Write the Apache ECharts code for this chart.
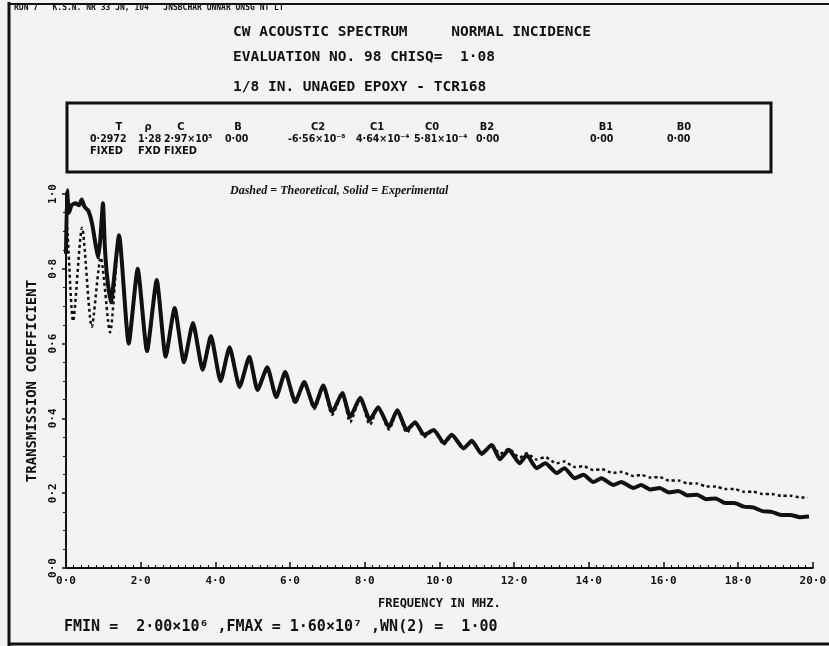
<!DOCTYPE html>
<html>
<head>
<meta charset="utf-8">
<script src="https://cdn.jsdelivr.net/npm/echarts@6/dist/echarts.min.js"></script>
<style>
html, body { margin: 0; padding: 0; background: #f3f3f1; }
#chart { width: 829px; height: 646px; }
</style>
</head>
<body>
<div id="chart"></div>
<script>
// experimental (solid) curve
var expFreq = [0.00, 0.03, 0.08, 0.15, 0.25, 0.35, 0.42, 0.50, 0.60, 0.70, 0.80, 0.86, 0.92, 0.99, 1.04, 1.10, 1.20,
    1.42, 1.68, 1.92, 2.17, 2.43, 2.67, 2.91, 3.16, 3.40, 3.66, 3.88, 4.14, 4.38, 4.65, 4.91, 5.13, 5.39, 5.63,
    5.87, 6.14, 6.38, 6.65, 6.89, 7.13, 7.40, 7.61, 7.88, 8.14, 8.36, 8.65, 8.87, 9.13, 9.35, 9.59, 9.85, 10.12,
    10.33, 10.65, 10.87, 11.13, 11.40, 11.62, 11.86, 12.15, 12.34, 12.60, 12.84, 13.14, 13.35, 13.62, 13.86, 14.12,
    14.34, 14.66, 14.87, 15.20, 15.40, 15.65, 15.90, 16.15, 16.40, 16.65, 16.90, 17.15, 17.40, 17.65, 17.90, 18.15,
    18.40, 18.65, 18.90, 19.15, 19.40, 19.65, 19.90];
var expTrans = [0.84, 1.01, 0.95, 0.97, 0.975, 0.97, 0.985, 0.965, 0.955, 0.92, 0.86, 0.83, 0.88, 0.975, 0.86, 0.78, 0.71,
    0.89, 0.60, 0.80, 0.58, 0.77, 0.565, 0.695, 0.55, 0.655, 0.53, 0.62, 0.50, 0.59, 0.484, 0.565, 0.476, 0.537, 0.457,
    0.524, 0.444, 0.497, 0.43, 0.488, 0.417, 0.468, 0.404, 0.455, 0.396, 0.43, 0.377, 0.422, 0.369, 0.39, 0.356, 0.369, 0.334,
    0.356, 0.32, 0.34, 0.305, 0.329, 0.291, 0.316, 0.28, 0.302, 0.267, 0.28, 0.254, 0.267, 0.24, 0.249, 0.23,
    0.24, 0.222, 0.23, 0.214, 0.222, 0.210, 0.214, 0.202, 0.206, 0.194, 0.196, 0.184, 0.186, 0.174, 0.174, 0.164,
    0.162, 0.152, 0.150, 0.142, 0.142, 0.136, 0.138];

// theoretical (dashed) curve
var theoFreq = [0.00, 0.05, 0.19, 0.43, 0.69, 0.93, 1.18,
    1.42, 1.68, 1.92, 2.17, 2.43, 2.67, 2.91, 3.16, 3.40, 3.66, 3.88, 4.14, 4.38, 4.65, 4.91, 5.13, 5.39, 5.63,
    5.87, 6.14, 6.38, 6.65, 6.89, 7.13, 7.40, 7.61, 7.88, 8.14, 8.36, 8.65, 8.87, 9.13, 9.35, 9.59, 9.85, 10.12,
    10.33, 10.65, 10.87, 11.13, 11.40, 11.62, 11.86, 12.15, 12.34, 12.60, 12.84, 13.14, 13.35, 13.62, 13.86, 14.12,
    14.34, 14.66, 14.87, 15.20, 15.40, 15.65, 15.90, 16.15, 16.40, 16.65, 16.90, 17.15, 17.40, 17.65, 17.90, 18.15,
    18.40, 18.65, 18.90, 19.15, 19.40, 19.65, 19.87];
var theoTrans = [0.96, 0.88, 0.66, 0.91, 0.645, 0.83, 0.63,
    0.88, 0.60, 0.79, 0.58, 0.76, 0.565, 0.69, 0.55, 0.65, 0.53, 0.615, 0.50, 0.585, 0.484, 0.56, 0.474, 0.532, 0.455,
    0.52, 0.44, 0.494, 0.425, 0.485, 0.41, 0.466, 0.39, 0.452, 0.383, 0.43, 0.37, 0.42, 0.362, 0.39, 0.35, 0.368, 0.33,
    0.354, 0.318, 0.34, 0.308, 0.33, 0.305, 0.318, 0.295, 0.307, 0.29, 0.296, 0.28, 0.285, 0.27, 0.272, 0.262,
    0.264, 0.254, 0.257, 0.246, 0.249, 0.242, 0.243, 0.234, 0.234, 0.226, 0.226, 0.218, 0.218, 0.211, 0.211, 0.204,
    0.204, 0.198, 0.198, 0.193, 0.193, 0.189, 0.188];

var titleLines = ['CW ACOUSTIC SPECTRUM     NORMAL INCIDENCE', 'EVALUATION NO. 98 CHISQ=  1·08', '1/8 IN. UNAGED EPOXY - TCR168'];
var paramNames = ['T', 'ρ', 'C', 'B', 'C2', 'C1', 'C0', 'B2', 'B1', 'B0'];
var paramValues = ['0·2972', '1·28', '2·97×10⁵', '0·00', '-6·56×10⁻⁸', '4·64×10⁻⁴', '5·81×10⁻⁴', '0·00', '0·00', '0·00'];
var paramFlags = ['FIXED', 'FXD', 'FIXED', '', '', '', '', '', '', ''];
var legendNote = 'Dashed = Theoretical, Solid = Experimental';
var footNote = 'FMIN =  2·00×10⁶ ,FMAX = 1·60×10⁷ ,WN(2) =  1·00';

// where the box entries sit
var nameX = [119, 148, 181, 238, 318, 377, 432, 487, 606, 684];
var valueX = [90, 138, 164, 225, 288, 356, 414, 476, 590, 667];

var mono = '"DejaVu Sans Mono", monospace';
var narrow = '"DejaVu Sans Condensed", "DejaVu Sans", sans-serif';

function zip(xs, ys) {
    var out = [];
    for (var i = 0; i < xs.length; i++) out.push([xs[i], ys[i]]);
    return out;
}

function dotLabel(v) {
    return v.toFixed(1).replace('.', '·');
}

var graphics = [];
// page frame
graphics.push({ type: 'line', shape: { x1: 9, y1: 2, x2: 9, y2: 646 }, style: { stroke: '#111', lineWidth: 3 } });
graphics.push({ type: 'line', shape: { x1: 9, y1: 4, x2: 829, y2: 4 }, style: { stroke: '#111', lineWidth: 2 } });
graphics.push({ type: 'line', shape: { x1: 9, y1: 644, x2: 829, y2: 644 }, style: { stroke: '#111', lineWidth: 3 } });
graphics.push({ type: 'text', x: 14, y: 8, style: { text: 'RUN 7   K.S.N. NR 33 JN, 104   JNSBCHAR UNNAR UNSG NT LT', font: 'bold 8px ' + mono, fill: '#111', textVerticalAlign: 'middle' } });

var titleY = [32, 57, 87];
for (var i = 0; i < titleLines.length; i++) {
    graphics.push({ type: 'text', x: 233, y: titleY[i], style: { text: titleLines[i], font: 'bold 14.5px ' + mono, fill: '#111', textVerticalAlign: 'middle' } });
}

// parameter box
graphics.push({ type: 'rect', shape: { x: 67, y: 103, width: 704, height: 69 }, style: { fill: 'none', stroke: '#111', lineWidth: 3 } });
for (var i = 0; i < paramNames.length; i++) {
    graphics.push({ type: 'text', x: nameX[i], y: 127, style: { text: paramNames[i], font: 'bold 11px ' + narrow, fill: '#111', textAlign: 'center', textVerticalAlign: 'middle' } });
    graphics.push({ type: 'text', x: valueX[i], y: 139, style: { text: paramValues[i], font: 'bold 10.5px ' + narrow, fill: '#111', textVerticalAlign: 'middle' } });
    if (paramFlags[i]) {
        graphics.push({ type: 'text', x: valueX[i], y: 151, style: { text: paramFlags[i], font: 'bold 11px ' + narrow, fill: '#111', textVerticalAlign: 'middle' } });
    }
}
graphics.push({ type: 'text', x: 230, y: 191, style: { text: legendNote, font: 'italic bold 12px "Liberation Serif", serif', fill: '#111', textVerticalAlign: 'middle' } });
graphics.push({ type: 'text', x: 64, y: 627, style: { text: footNote, font: 'bold 15px ' + mono, fill: '#111', textVerticalAlign: 'middle' } });

var myChart = echarts.init(document.getElementById('chart'), null, { renderer: 'canvas' });

var option = {
    backgroundColor: '#f3f3f1',
    animation: false,
    grid: { left: 66, right: 11, top: 194, bottom: 78 },
    xAxis: {
        type: 'value',
        min: 0,
        max: 20,
        interval: 2,
        name: 'FREQUENCY IN MHZ.',
        nameLocation: 'middle',
        nameGap: 30,
        nameTextStyle: { color: '#111', fontFamily: mono, fontWeight: 'bold', fontSize: 12 },
        axisLine: { lineStyle: { color: '#111', width: 2 } },
        axisTick: { inside: true, length: 6, lineStyle: { color: '#111', width: 1.5 } },
        minorTick: { show: true, splitNumber: 10, length: 3, lineStyle: { color: '#111', width: 1 } },
        splitLine: { show: false },
        axisLabel: { color: '#111', fontFamily: mono, fontWeight: 'bold', fontSize: 11, margin: 8, formatter: dotLabel }
    },
    yAxis: {
        type: 'value',
        min: 0,
        max: 1,
        interval: 0.2,
        name: 'TRANSMISSION COEFFICIENT',
        nameLocation: 'middle',
        nameGap: 27,
        nameRotate: 90,
        nameTextStyle: { color: '#111', fontFamily: mono, fontWeight: 'bold', fontSize: 14 },
        axisLine: { show: true, lineStyle: { color: '#111', width: 2 } },
        axisTick: { show: true, length: 4, lineStyle: { color: '#111', width: 1.5 } },
        minorTick: { show: true, splitNumber: 4, length: 3, lineStyle: { color: '#111', width: 1 } },
        splitLine: { show: false },
        axisLabel: { color: '#111', fontFamily: mono, fontWeight: 'bold', fontSize: 11, rotate: 90, margin: 7, formatter: dotLabel }
    },
    series: [
        {
            name: 'Experimental',
            type: 'line',
            data: zip(expFreq, expTrans),
            smooth: 0.18,
            symbol: 'none',
            clip: false,
            lineStyle: { color: '#111', width: 4 },
            z: 2
        },
        {
            name: 'Theoretical',
            type: 'line',
            data: zip(theoFreq, theoTrans),
            smooth: 0.25,
            symbol: 'none',
            clip: false,
            lineStyle: { color: '#111', width: 2.5, type: [3, 3] },
            z: 3
        }
    ],
    graphic: graphics
};

if (option && typeof option === 'object') {
    myChart.setOption(option);
}
</script>
</body>
</html>
